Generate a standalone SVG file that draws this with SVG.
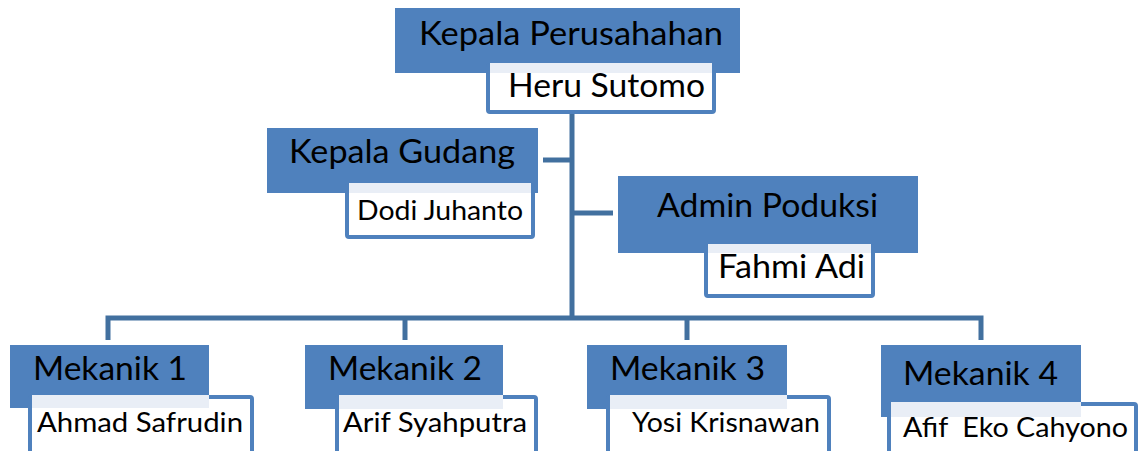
<svg xmlns="http://www.w3.org/2000/svg" width="1140" height="451" viewBox="0 0 1140 451">
<style>
.hd{fill:#4F81BD}
.bx{fill:#FFFFFF;stroke:#4F81BD;stroke-width:4}
.band{fill:#E9EEF6}
.t{font-family:Lato,"Liberation Sans",sans-serif;fill:#000}
.big{font-size:32px}
.sm{font-size:27px}
.cn{fill:none;stroke:#42709F;stroke-width:5;stroke-linejoin:miter}
</style>
<rect width="1140" height="451" fill="#FFFFFF"/>
<g id="connectors">
<path class="cn" d="M572,113 V318"/>
<path class="cn" d="M543,160 H572"/>
<path class="cn" d="M572,213 H613"/>
<path class="cn" d="M108,340 V318 H981 V340"/>
<path class="cn" d="M405,318 V340"/>
<path class="cn" d="M687,318 V340"/>
</g>
<g id="kepala-perusahaan">
<rect class="hd" x="395" y="8" width="345" height="65"/>
<rect class="bx" x="488" y="65" width="226" height="47" rx="2"/>
<rect class="band" x="490" y="63" width="222" height="10"/>
<text class="t big" x="419" y="45" textLength="304" lengthAdjust="spacingAndGlyphs">Kepala Perusahahan</text>
<text class="t big" x="508" y="97" textLength="197" lengthAdjust="spacingAndGlyphs">Heru Sutomo</text>
</g>
<g id="kepala-gudang">
<rect class="hd" x="267" y="128" width="271" height="65"/>
<rect class="bx" x="347" y="185" width="186" height="52" rx="2"/>
<rect class="band" x="349" y="183" width="182" height="10"/>
<text class="t big" x="289" y="163" textLength="226" lengthAdjust="spacingAndGlyphs">Kepala Gudang</text>
<text class="t sm" x="357" y="220" textLength="166" lengthAdjust="spacingAndGlyphs">Dodi Juhanto</text>
</g>
<g id="admin-produksi">
<rect class="hd" x="618" y="176" width="300" height="77"/>
<rect class="bx" x="706" y="246" width="167" height="50" rx="2"/>
<rect class="band" x="708" y="244" width="163" height="9"/>
<text class="t big" x="657" y="217" textLength="221" lengthAdjust="spacingAndGlyphs">Admin Poduksi</text>
<text class="t big" x="718" y="278" textLength="147" lengthAdjust="spacingAndGlyphs">Fahmi Adi</text>
</g>
<g id="mekanik-1">
<rect class="hd" x="10" y="345" width="199" height="63"/>
<rect class="bx" x="30" y="397" width="222" height="60" rx="2"/>
<rect class="band" x="32" y="395" width="177" height="13"/>
<text class="t big" x="33" y="380" textLength="154" lengthAdjust="spacingAndGlyphs">Mekanik 1</text>
<text class="t sm" x="37" y="432" textLength="206" lengthAdjust="spacingAndGlyphs">Ahmad Safrudin</text>
</g>
<g id="mekanik-2">
<rect class="hd" x="305" y="345" width="198" height="64"/>
<rect class="bx" x="337" y="397" width="199" height="60" rx="2"/>
<rect class="band" x="339" y="395" width="164" height="14"/>
<text class="t big" x="328" y="380" textLength="154" lengthAdjust="spacingAndGlyphs">Mekanik 2</text>
<text class="t sm" x="343" y="432" textLength="184" lengthAdjust="spacingAndGlyphs">Arif Syahputra</text>
</g>
<g id="mekanik-3">
<rect class="hd" x="587" y="345" width="200" height="64"/>
<rect class="bx" x="608" y="397" width="221" height="60" rx="2"/>
<rect class="band" x="610" y="395" width="177" height="14"/>
<text class="t big" x="610" y="380" textLength="155" lengthAdjust="spacingAndGlyphs">Mekanik 3</text>
<text class="t sm" x="632" y="432" textLength="188" lengthAdjust="spacingAndGlyphs">Yosi Krisnawan</text>
</g>
<g id="mekanik-4">
<rect class="hd" x="881" y="345" width="200" height="72"/>
<rect class="bx" x="889" y="404" width="247" height="60" rx="2"/>
<rect class="band" x="891" y="402" width="190" height="15"/>
<text class="t big" x="903" y="385" textLength="155" lengthAdjust="spacingAndGlyphs">Mekanik 4</text>
<text class="t sm" x="903" y="437" textLength="225" lengthAdjust="spacingAndGlyphs" xml:space="preserve">Afif  Eko Cahyono</text>
</g>
</svg>
